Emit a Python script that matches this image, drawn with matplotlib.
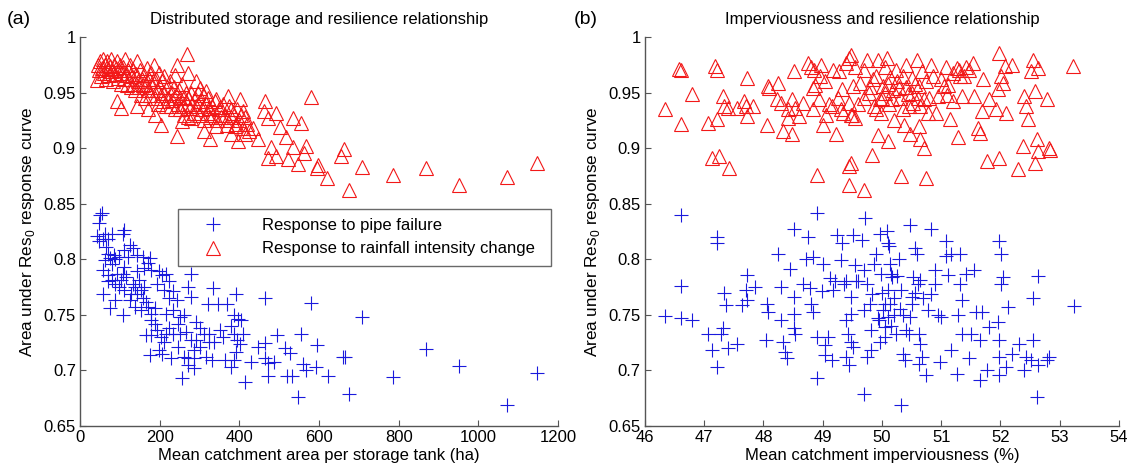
import matplotlib
matplotlib.use("Agg")
import matplotlib.pyplot as plt

plt.rcParams["font.family"] = ["Liberation Sans", "DejaVu Sans"]

# ---- panel (a): catchment area per storage tank (ha) ----
storage_rain = [
    (45, 0.975), (48, 0.970), (50, 0.978), (52, 0.965), (55, 0.972), (58, 0.980), (60, 0.968),
    (62, 0.975), (65, 0.962), (67, 0.978), (70, 0.971), (72, 0.966), (75, 0.974), (78, 0.980),
    (80, 0.969), (82, 0.960), (85, 0.975), (88, 0.967), (90, 0.972), (92, 0.978), (95, 0.963),
    (98, 0.970), (100, 0.975), (102, 0.958), (105, 0.968), (108, 0.973), (110, 0.962), (112, 0.980),
    (115, 0.966), (118, 0.957), (120, 0.970), (122, 0.962), (125, 0.975), (128, 0.955), (130, 0.965),
    (132, 0.970), (135, 0.958), (138, 0.952), (140, 0.967), (142, 0.978), (145, 0.960), (148, 0.955),
    (150, 0.970), (152, 0.948), (155, 0.962), (158, 0.957), (160, 0.966), (162, 0.945), (165, 0.958),
    (168, 0.972), (170, 0.952), (172, 0.962), (175, 0.948), (178, 0.968), (180, 0.955), (182, 0.960),
    (185, 0.975), (188, 0.945), (190, 0.962), (192, 0.952), (195, 0.940), (198, 0.968), (200, 0.955),
    (202, 0.948), (205, 0.960), (208, 0.942), (210, 0.965), (212, 0.950), (215, 0.938), (218, 0.955),
    (220, 0.945), (225, 0.960), (228, 0.938), (230, 0.950), (232, 0.943), (235, 0.955), (238, 0.935),
    (240, 0.948), (245, 0.940), (248, 0.952), (250, 0.935), (252, 0.945), (255, 0.958), (258, 0.938),
    (260, 0.946), (262, 0.930), (265, 0.950), (268, 0.940), (270, 0.928), (272, 0.945), (275, 0.936),
    (278, 0.950), (280, 0.940), (285, 0.932), (288, 0.945), (290, 0.938), (295, 0.950), (298, 0.930),
    (300, 0.942), (305, 0.935), (308, 0.948), (310, 0.925), (315, 0.940), (318, 0.932), (320, 0.945),
    (325, 0.928), (330, 0.938), (335, 0.930), (340, 0.942), (345, 0.925), (350, 0.935), (355, 0.928),
    (360, 0.940), (365, 0.930), (370, 0.925), (375, 0.938), (380, 0.928), (385, 0.932), (390, 0.920),
    (395, 0.935), (400, 0.925), (405, 0.930), (410, 0.918), (415, 0.928), (420, 0.922), (425, 0.915),
    (580, 0.946), (268, 0.985), (1148, 0.887), (1073, 0.874), (951, 0.867), (868, 0.882), (785, 0.876),
    (708, 0.883), (675, 0.862), (621, 0.873), (595, 0.882), (597, 0.885), (663, 0.899), (654, 0.893),
    (568, 0.902), (561, 0.896), (547, 0.886), (523, 0.890), (534, 0.901), (517, 0.910), (503, 0.919),
    (534, 0.927), (555, 0.923), (491, 0.932), (464, 0.942), (473, 0.927), (480, 0.901), (473, 0.891),
    (491, 0.893), (446, 0.908), (433, 0.918), (462, 0.933), (414, 0.913), (396, 0.906), (401, 0.944),
    (371, 0.947), (378, 0.935), (392, 0.922), (410, 0.933), (369, 0.921), (378, 0.913), (342, 0.920),
    (326, 0.908), (310, 0.915), (243, 0.911), (202, 0.921), (256, 0.924), (279, 0.927), (270, 0.968),
    (243, 0.975), (238, 0.966), (301, 0.954), (292, 0.960), (315, 0.951), (342, 0.944), (324, 0.936),
    (351, 0.937), (102, 0.936), (93, 0.942), (143, 0.938), (170, 0.935), (43, 0.961), (188, 0.930),
]
storage_pipe = [
    (54, 0.842), (51, 0.840), (48, 0.833), (1148, 0.698), (1073, 0.669), (951, 0.704), (868, 0.719),
    (785, 0.694), (709, 0.748), (675, 0.679), (659, 0.712), (664, 0.712), (623, 0.695), (595, 0.723),
    (593, 0.703), (579, 0.761), (568, 0.700), (559, 0.706), (555, 0.733), (548, 0.676), (532, 0.695),
    (528, 0.716), (514, 0.720), (520, 0.695), (494, 0.732), (487, 0.708), (473, 0.707), (464, 0.711),
    (473, 0.695), (464, 0.765), (464, 0.725), (446, 0.721), (428, 0.708), (413, 0.690), (410, 0.733),
    (401, 0.724), (392, 0.769), (387, 0.750), (396, 0.746), (392, 0.717), (387, 0.709), (378, 0.703),
    (369, 0.760), (346, 0.760), (333, 0.774), (320, 0.760), (331, 0.709), (324, 0.726), (310, 0.733),
    (287, 0.702), (292, 0.727), (279, 0.787), (270, 0.775), (279, 0.766), (256, 0.693), (270, 0.711),
    (287, 0.711), (261, 0.712), (229, 0.711), (206, 0.715), (175, 0.714), (197, 0.718), (202, 0.730),
    (211, 0.726), (166, 0.732), (252, 0.748), (247, 0.742), (265, 0.735), (261, 0.750), (292, 0.744),
    (301, 0.738), (224, 0.765), (233, 0.771), (243, 0.763), (215, 0.751), (188, 0.756), (179, 0.751),
    (166, 0.762), (193, 0.778), (206, 0.786), (211, 0.772), (161, 0.775), (148, 0.781), (175, 0.801),
    (170, 0.797), (161, 0.792), (143, 0.789), (134, 0.778), (143, 0.769), (152, 0.754), (138, 0.757),
    (125, 0.763), (134, 0.810), (120, 0.802), (125, 0.813), (111, 0.793), (107, 0.823), (111, 0.826),
    (98, 0.802), (89, 0.800), (93, 0.787), (80, 0.796), (71, 0.818), (80, 0.823), (62, 0.823),
    (57, 0.818), (43, 0.821), (48, 0.816), (66, 0.811), (71, 0.805), (57, 0.790), (71, 0.786),
    (80, 0.781), (89, 0.778), (98, 0.775), (102, 0.781), (111, 0.772), (57, 0.769), (75, 0.756),
    (107, 0.750), (89, 0.763), (71, 0.780), (62, 0.799), (75, 0.801), (84, 0.804), (107, 0.787),
    (116, 0.784), (129, 0.769), (138, 0.775), (152, 0.772), (157, 0.765), (170, 0.757), (179, 0.745),
    (188, 0.742), (193, 0.736), (179, 0.732), (215, 0.733), (224, 0.738), (233, 0.754), (252, 0.733),
    (279, 0.727), (270, 0.705), (315, 0.712), (324, 0.733), (337, 0.726), (351, 0.736), (360, 0.730),
    (378, 0.740), (387, 0.733), (405, 0.745), (395, 0.727), (365, 0.709), (287, 0.718), (301, 0.721),
    (247, 0.721), (233, 0.733), (111, 0.808), (143, 0.804), (157, 0.802), (179, 0.790), (197, 0.789),
    (215, 0.787), (224, 0.780),
]

# ---- panel (b): mean catchment imperviousness (%) ----
imperv_rain = [
    (46.34, 0.935), (46.58, 0.971), (46.60, 0.970), (46.61, 0.922), (46.80, 0.949), (47.07, 0.923),
    (47.19, 0.974), (47.21, 0.970), (47.22, 0.926), (47.13, 0.891), (47.25, 0.893), (47.42, 0.882),
    (47.31, 0.947), (47.34, 0.938), (47.40, 0.936), (47.55, 0.936), (47.67, 0.942), (47.70, 0.938),
    (47.73, 0.929), (47.72, 0.963), (47.82, 0.938), (48.06, 0.921), (48.07, 0.956), (48.09, 0.954),
    (48.24, 0.959), (48.23, 0.944), (48.30, 0.941), (48.33, 0.915), (48.48, 0.913), (48.51, 0.969),
    (48.48, 0.944), (48.54, 0.936), (48.66, 0.941), (48.60, 0.929), (48.41, 0.927), (48.42, 0.935),
    (48.75, 0.977), (48.81, 0.973), (48.87, 0.957), (48.84, 0.954), (48.94, 0.944), (48.84, 0.935),
    (48.91, 0.876), (48.97, 0.975), (49.03, 0.960), (49.01, 0.921), (49.18, 0.970), (49.15, 0.938),
    (49.22, 0.913), (49.27, 0.969), (49.33, 0.953), (49.30, 0.935), (49.39, 0.977), (49.48, 0.984),
    (49.45, 0.981), (49.45, 0.884), (49.48, 0.887), (49.45, 0.867), (49.54, 0.973), (49.51, 0.956),
    (49.45, 0.941), (49.48, 0.930), (49.54, 0.927), (49.69, 0.862), (49.63, 0.959), (49.69, 0.970),
    (49.75, 0.979), (49.78, 0.950), (49.83, 0.894), (49.87, 0.938), (49.90, 0.965), (49.93, 0.979),
    (49.93, 0.912), (49.96, 0.944), (49.99, 0.932), (50.02, 0.956), (50.05, 0.973), (50.08, 0.981),
    (50.11, 0.906), (50.14, 0.964), (50.17, 0.944), (50.20, 0.925), (50.23, 0.970), (50.32, 0.875),
    (50.29, 0.954), (50.36, 0.935), (50.38, 0.921), (50.41, 0.975), (50.44, 0.949), (50.47, 0.913),
    (50.50, 0.963), (50.53, 0.941), (50.59, 0.979), (50.62, 0.956), (50.62, 0.920), (50.65, 0.908),
    (50.71, 0.900), (50.74, 0.873), (50.68, 0.969), (50.71, 0.944), (50.77, 0.932), (50.83, 0.975),
    (50.86, 0.965), (50.92, 0.932), (50.95, 0.947), (51.04, 0.956), (51.08, 0.973), (51.11, 0.957),
    (51.14, 0.926), (51.20, 0.942), (51.26, 0.972), (51.29, 0.910), (51.32, 0.965), (51.35, 0.947),
    (51.41, 0.973), (51.47, 0.970), (51.53, 0.977), (51.56, 0.947), (51.62, 0.918), (51.65, 0.914),
    (51.68, 0.933), (51.71, 0.962), (51.77, 0.888), (51.80, 0.944), (51.92, 0.935), (51.95, 0.953),
    (51.98, 0.891), (51.98, 0.986), (52.01, 0.965), (52.04, 0.959), (52.07, 0.974), (52.10, 0.932),
    (52.19, 0.975), (52.29, 0.881), (52.38, 0.902), (52.40, 0.947), (52.43, 0.938), (52.46, 0.926),
    (52.52, 0.969), (52.55, 0.979), (52.58, 0.951), (52.58, 0.887), (52.61, 0.908), (52.64, 0.897),
    (52.64, 0.972), (52.79, 0.944), (52.82, 0.900), (52.83, 0.898), (53.23, 0.974),
    (50.00, 0.945), (50.05, 0.950), (50.10, 0.958), (50.12, 0.940), (50.18, 0.952), (50.25, 0.960),
    (50.30, 0.945), (50.40, 0.955), (50.45, 0.938), (50.50, 0.950), (50.55, 0.958), (50.60, 0.945),
    (49.80, 0.955), (49.85, 0.962), (49.70, 0.945), (49.60, 0.940), (49.90, 0.935), (50.35, 0.965),
    (50.65, 0.938), (50.75, 0.960), (50.80, 0.945), (51.00, 0.962), (51.10, 0.948), (51.30, 0.970),
    (51.38, 0.965), (51.20, 0.968), (49.10, 0.940), (49.05, 0.930), (49.25, 0.945), (49.35, 0.932),
    (49.50, 0.930), (48.85, 0.970), (48.95, 0.965),
]
imperv_pipe = [
    (46.61, 0.840), (46.34, 0.749), (46.60, 0.776), (46.61, 0.747), (46.80, 0.745), (47.07, 0.733),
    (47.13, 0.718), (47.22, 0.703), (47.21, 0.820), (47.22, 0.815), (47.34, 0.770), (47.37, 0.759),
    (47.28, 0.733), (47.31, 0.738), (47.40, 0.720), (47.55, 0.724), (47.64, 0.759), (47.70, 0.772),
    (47.73, 0.786), (47.73, 0.763), (47.85, 0.775), (48.06, 0.760), (48.07, 0.753), (48.05, 0.727),
    (48.24, 0.805), (48.29, 0.775), (48.30, 0.745), (48.33, 0.726), (48.37, 0.717), (48.39, 0.711),
    (48.45, 0.791), (48.51, 0.766), (48.51, 0.751), (48.51, 0.738), (48.53, 0.733), (48.51, 0.827),
    (48.66, 0.778), (48.72, 0.800), (48.75, 0.820), (48.78, 0.774), (48.81, 0.760), (48.84, 0.753),
    (48.83, 0.802), (48.91, 0.842), (48.91, 0.730), (48.91, 0.693), (48.98, 0.771), (49.00, 0.796),
    (49.03, 0.723), (49.03, 0.714), (49.09, 0.730), (49.12, 0.783), (49.15, 0.709), (49.18, 0.772),
    (49.24, 0.822), (49.30, 0.799), (49.33, 0.815), (49.36, 0.778), (49.39, 0.745), (49.42, 0.733),
    (49.39, 0.712), (49.45, 0.705), (49.48, 0.751), (49.48, 0.766), (49.51, 0.822), (49.54, 0.795),
    (49.57, 0.780), (49.48, 0.726), (49.51, 0.721), (49.66, 0.817), (49.69, 0.754), (49.69, 0.679),
    (49.72, 0.837), (49.75, 0.778), (49.75, 0.712), (49.81, 0.718), (49.81, 0.736), (49.84, 0.769),
    (49.87, 0.796), (49.90, 0.805), (49.93, 0.747), (49.96, 0.823), (49.99, 0.787), (49.96, 0.726),
    (50.02, 0.754), (50.05, 0.739), (50.05, 0.730), (50.08, 0.825), (50.11, 0.815), (50.11, 0.772),
    (50.14, 0.760), (50.14, 0.796), (50.17, 0.784), (50.20, 0.750), (50.23, 0.733), (50.29, 0.800),
    (50.32, 0.772), (50.32, 0.669), (50.36, 0.750), (50.36, 0.715), (50.39, 0.709), (50.45, 0.733),
    (50.47, 0.831), (50.47, 0.748), (50.50, 0.766), (50.53, 0.784), (50.56, 0.810), (50.59, 0.805),
    (50.62, 0.733), (50.65, 0.724), (50.65, 0.781), (50.62, 0.706), (50.68, 0.712), (50.74, 0.696),
    (50.77, 0.754), (50.83, 0.769), (50.83, 0.827), (50.89, 0.790), (50.95, 0.750), (50.98, 0.708),
    (51.08, 0.816), (51.08, 0.803), (51.11, 0.786), (51.17, 0.718), (51.17, 0.805), (51.26, 0.697),
    (51.29, 0.750), (51.32, 0.778), (51.32, 0.805), (51.35, 0.763), (51.35, 0.733), (51.41, 0.787),
    (51.47, 0.711), (51.50, 0.733), (51.56, 0.790), (51.59, 0.753), (51.65, 0.727), (51.65, 0.691),
    (51.68, 0.753), (51.77, 0.700), (51.80, 0.739), (51.95, 0.744), (51.98, 0.816), (52.01, 0.805),
    (52.01, 0.778), (52.04, 0.784), (51.98, 0.727), (51.98, 0.712), (51.98, 0.696), (52.13, 0.757),
    (52.10, 0.703), (52.19, 0.715), (52.31, 0.724), (52.40, 0.700), (52.43, 0.712), (52.52, 0.709),
    (52.55, 0.765), (52.55, 0.727), (52.61, 0.676), (52.64, 0.785), (52.64, 0.705), (52.79, 0.709),
    (52.82, 0.712), (53.24, 0.758),
    (50.05, 0.760), (50.10, 0.748), (50.15, 0.740), (50.20, 0.765), (50.00, 0.770), (49.95, 0.745),
    (50.50, 0.760), (50.55, 0.770), (50.60, 0.778), (50.40, 0.736), (50.70, 0.765), (49.80, 0.760),
    (49.60, 0.780), (49.40, 0.780), (49.20, 0.780), (49.70, 0.790), (50.90, 0.778), (51.00, 0.748),
    (50.30, 0.755), (50.25, 0.785), (50.15, 0.787), (50.12, 0.812),
]

y_ticks = [0.65, 0.7, 0.75, 0.8, 0.85, 0.9, 0.95, 1]
y_ticklabels = ["0.65", "0.7", "0.75", "0.8", "0.85", "0.9", "0.95", "1"]

blue = "#1a1adc"
red = "#f21818"


def style_axes(ax):
    for side in ["top", "right"]:
        ax.spines[side].set_visible(False)
    for side in ["left", "bottom"]:
        ax.spines[side].set_color("#555555")
        ax.spines[side].set_linewidth(1.0)
    ax.tick_params(direction="in", length=4, width=0.8, color="#555555", labelsize=12, pad=3)
    ax.set_ylim(0.65, 1.0)
    ax.set_yticks(y_ticks)
    ax.set_yticklabels(y_ticklabels)
    ax.set_ylabel("Area under Res$_{\\mathregular{0}}$ response curve", fontsize=12.3, labelpad=5)


def draw(ax, pipe, rain):
    px, py = zip(*pipe)
    rx, ry = zip(*rain)
    ax.plot(px, py, ls="none", marker="+", ms=10, mew=0.8, color=blue,
            label="Response to pipe failure")
    ax.plot(rx, ry, ls="none", marker="^", ms=10, mew=0.8, mfc="none", mec=red,
            label="Response to rainfall intensity change")


fig = plt.figure(figsize=(11.29, 4.74), dpi=100)
ax1 = fig.add_axes([0.0709, 0.1013, 0.4234, 0.8207])
ax2 = fig.add_axes([0.5713, 0.1013, 0.4198, 0.8207])

draw(ax1, storage_pipe, storage_rain)
style_axes(ax1)
ax1.set_xlim(0, 1200)
ax1.set_xticks([0, 200, 400, 600, 800, 1000, 1200])
ax1.set_xlabel("Mean catchment area per storage tank (ha)", fontsize=12, labelpad=2)
ax1.set_title("Distributed storage and resilience relationship", fontsize=12, pad=9)
leg = ax1.legend(loc="upper left", bbox_to_anchor=(0.205, 0.558, 0.78, 0.0), mode="expand",
                 fontsize=12, frameon=True, fancybox=False, handlelength=3.1,
                 handletextpad=1.4, borderpad=0.55, labelspacing=0.5, borderaxespad=0)
leg.get_frame().set_edgecolor("#444444")
leg.get_frame().set_linewidth(1.0)

draw(ax2, imperv_pipe, imperv_rain)
style_axes(ax2)
ax2.set_xlim(46, 54)
ax2.set_xticks(range(46, 55))
ax2.set_xlabel("Mean catchment imperviousness (%)", fontsize=12, labelpad=2)
ax2.set_title("Imperviousness and resilience relationship", fontsize=12, pad=9)

fig.text(0.006, 0.958, "(a)", fontsize=14, va="center")
fig.text(0.508, 0.958, "(b)", fontsize=14, va="center")

fig.savefig("out.png", dpi=100)
